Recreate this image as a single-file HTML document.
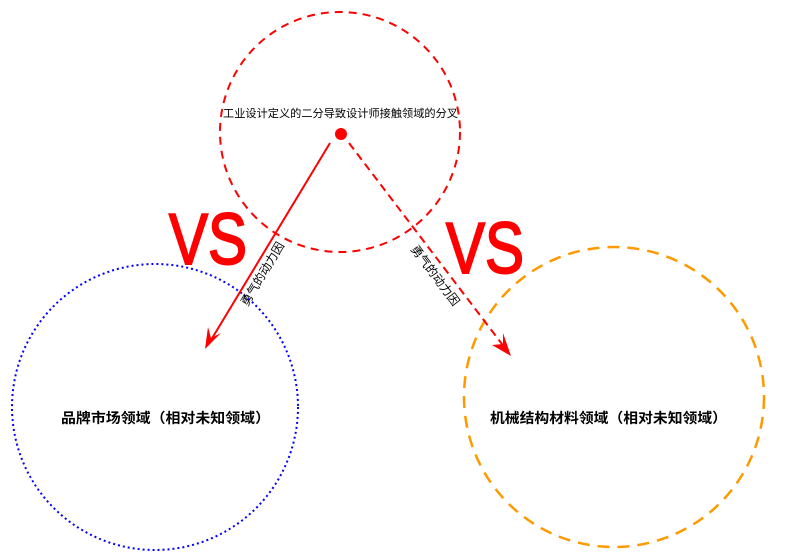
<!DOCTYPE html>
<html><head><meta charset="utf-8"><style>
html,body{margin:0;padding:0;background:#fff;width:785px;height:555px;overflow:hidden}
svg{display:block}
text{font-family:"Liberation Sans","Noto Sans CJK SC",sans-serif}
</style></head><body>
<svg width="785" height="555" viewBox="0 0 785 555" xmlns="http://www.w3.org/2000/svg">
<circle cx="340" cy="132" r="120" fill="none" stroke="#f00" stroke-width="2" stroke-dasharray="8,6"/>
<circle cx="155" cy="407" r="143" fill="none" stroke="#00f" stroke-width="2" stroke-dasharray="2,3"/>
<circle cx="614" cy="397" r="150" fill="none" stroke="#f90" stroke-width="2.5" stroke-dasharray="12,8"/>
<text x="223" y="117" font-size="11" textLength="235" lengthAdjust="spacingAndGlyphs" fill="#000">工业设计定义的二分导致设计师接触领域的分叉</text>
<circle cx="341" cy="134" r="6" fill="#f00"/>
<line x1="330" y1="143" x2="208" y2="345" stroke="#f00" stroke-width="2"/>
<path d="M205,349 L208,327 L211,338 L221,333 Z" fill="#f00"/>
<line x1="349" y1="143" x2="508" y2="352" stroke="#f00" stroke-width="2" stroke-dasharray="8,5"/>
<path d="M511,356 L492,345 L503,344 L503,333 Z" fill="#f00"/>
<text x="266" y="276" font-size="12" text-anchor="middle" transform="rotate(-59 266 276)">勇气的动力因</text>
<text x="432" y="278" font-size="12" text-anchor="middle" transform="rotate(53 432 278)">勇气的动力因</text>
<text x="169" y="264" font-size="72" fill="#f00" stroke="#f00" stroke-width="2" textLength="78" lengthAdjust="spacingAndGlyphs">VS</text>
<text x="446" y="273" font-size="72" fill="#f00" stroke="#f00" stroke-width="2" textLength="78" lengthAdjust="spacingAndGlyphs">VS</text>
<text x="61" y="423" font-size="14" font-weight="bold" textLength="209" lengthAdjust="spacingAndGlyphs">品牌市场领域（相对未知领域）</text>
<text x="490" y="423" font-size="14" font-weight="bold" textLength="237" lengthAdjust="spacingAndGlyphs">机械结构材料领域（相对未知领域）</text>
</svg>
</body></html>
